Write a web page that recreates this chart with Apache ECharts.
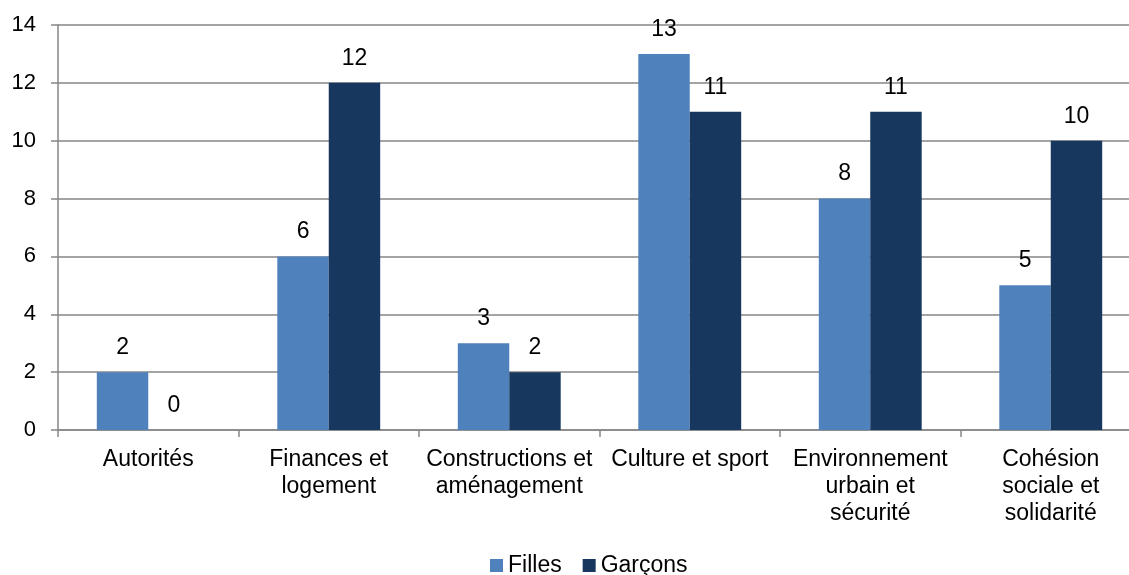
<!DOCTYPE html>
<html>
<head>
<meta charset="utf-8">
<script src="https://cdn.jsdelivr.net/npm/echarts@6/dist/echarts.min.js"></script>
<style>
  html, body { margin: 0; padding: 0; background: #fff; }
  #charts { width: 1129px; height: 575px; }
</style>
</head>
<body>
<div id="charts"></div>
<script>
// données du graphique
const categories = [
  "Autorités",
  "Finances et\nlogement",
  "Constructions et\naménagement",
  "Culture et sport",
  "Environnement\nurbain et\nsécurité",
  "Cohésion\nsociale et\nsolidarité",
];
const filles = [2, 6, 3, 13, 8, 5];
const garcons = [0, 12, 2, 11, 11, 10];
const yTicks = { min: 0, max: 14, interval: 2 };

const font = "'Liberation Sans', Arial, sans-serif";
const axisGray = "#868686";

let myChart = echarts.init(document.getElementById("charts"));
myChart.setOption({
  animation: false,
  textStyle: { fontFamily: font },
  legend: {
    top: 549,
    left: 485,
    itemWidth: 13,
    itemHeight: 13,
    itemGap: 21,
    icon: "rect",
    textStyle: { fontSize: 23, color: "#000", fontFamily: font },
    data: ["Filles", "Garçons"],
  },
  grid: {
    left: 58,
    width: 1083,
    top: 25,
    bottom: 145,
    outerBoundsMode: "none",
  },
  xAxis: {
    type: "category",
    data: categories,
    axisLine: { lineStyle: { color: axisGray, width: 1.5 } },
    axisTick: { show: true, length: 7, lineStyle: { color: axisGray, width: 1.5 } },
    axisLabel: {
      interval: 0,
      margin: 16,
      color: "#000",
      fontSize: 23,
      lineHeight: 27,
      fontFamily: font,
    },
  },
  yAxis: {
    type: "value",
    min: yTicks.min,
    max: yTicks.max,
    interval: yTicks.interval,
    axisLine: { show: true, lineStyle: { color: axisGray, width: 1.5 } },
    axisTick: { show: true, length: 7, lineStyle: { color: axisGray, width: 1.5 } },
    axisLabel: { margin: 22, color: "#000", fontSize: 22, fontFamily: font },
    splitLine: { lineStyle: { color: axisGray, width: 1.5 } },
  },
  series: [
    {
      name: "Filles",
      type: "bar",
      data: filles,
      barGap: "0%",
      barCategoryGap: "43%",
      itemStyle: { color: "#4F81BD" },
      label: { show: true, position: "top", distance: 13, color: "#000", fontSize: 23, fontFamily: font },
    },
    {
      name: "Garçons",
      type: "bar",
      data: garcons,
      itemStyle: { color: "#17375E" },
      label: { show: true, position: "top", distance: 13, color: "#000", fontSize: 23, fontFamily: font },
    },
  ],
});
</script>
</body>
</html>
